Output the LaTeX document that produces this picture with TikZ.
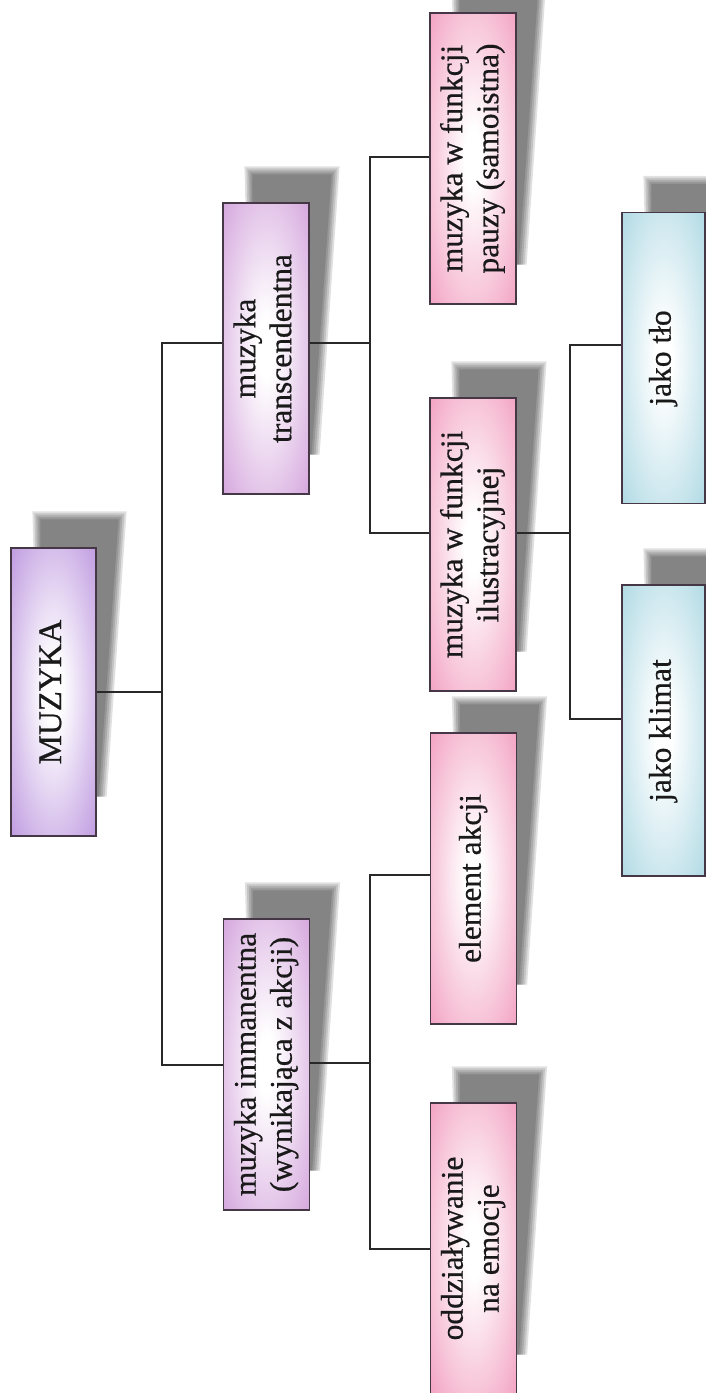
\documentclass[tikz,border=0pt]{standalone}
\usepackage{fontspec}
\setmainfont{Liberation Serif}
\newfontfamily\boxfont{Liberation Serif}[FakeBold=0.5]
\usetikzlibrary{backgrounds,calc}
\definecolor{violetA}{RGB}{178,134,218}
\definecolor{violetB}{RGB}{204,148,214}
\definecolor{pinkC}{RGB}{240,144,182}
\definecolor{blueD}{RGB}{160,210,223}
\definecolor{edgecol}{RGB}{70,55,70}
\definecolor{linecol}{RGB}{40,40,40}
\pgfdeclareradialshading{glowA}{\pgfpoint{0bp}{0bp}}{color(0bp)=(white); color(5bp)=(white); color(42bp)=(violetA); color(100bp)=(violetA)}
\pgfdeclareradialshading{glowB}{\pgfpoint{0bp}{0bp}}{color(0bp)=(white); color(5bp)=(white); color(42bp)=(violetB); color(100bp)=(violetB)}
\pgfdeclareradialshading{glowC}{\pgfpoint{0bp}{0bp}}{color(0bp)=(white); color(5bp)=(white); color(42bp)=(pinkC); color(100bp)=(pinkC)}
\pgfdeclareradialshading{glowD}{\pgfpoint{0bp}{0bp}}{color(0bp)=(white); color(5bp)=(white); color(42bp)=(blueD); color(100bp)=(blueD)}
\tikzset{
  box/.style={draw=edgecol, line width=1.2pt, inner sep=0pt, shade,
    font=\boxfont\fontsize{31.5}{36}\selectfont, text=black!90,
    minimum width=86pt, minimum height=291pt},
  lvlA/.style={box, shading=glowA, minimum width=85pt, minimum height=288pt,
    font=\boxfont\fontsize{33}{38}\selectfont},
  lvlB/.style={box, shading=glowB},
  lvlC/.style={box, shading=glowC},
  lvlD/.style={box, shading=glowD, minimum width=83pt},
  conn/.style={draw=linecol, line width=2pt},
  shadowfill/.style={fill=black, fill opacity=0.12}
}
\newcommand\rtext[1]{\rotatebox{90}{\begin{tabular}{@{}c@{}}#1\end{tabular}}}
\newcommand\boxshadow[1]{%
  \foreach \dd in {0,2,4,6,8}{%
    \fill[shadowfill] ([shift={(30-\dd,-28-\dd)}]#1.north west)
      -- ([shift={(22+\dd,-28-\dd)}]#1.north east)
      -- ([shift={(2+\dd,-40)}]#1.south east)
      -- ([shift={(30,-40)}]#1.south west) -- cycle;}}
\begin{document}
\begin{tikzpicture}[x=1pt,y=-1pt]
\useasboundingbox (0,0) rectangle (706,1393);
% boxes
\node[lvlA] (muzyka)  at (53.5,692)    {\rtext{MUZYKA}};
\node[lvlB] (trans)   at (266,348.5)   {\rtext{muzyka\\transcendentna}};
\node[lvlB] (imman)   at (266.5,1064.5){\rtext{muzyka immanentna\\(wynikająca z akcji)}};
\node[lvlC] (pauzy)   at (473,158.5)   {\rtext{muzyka w funkcji\\pauzy (samoistna)}};
\node[lvlC, minimum height=293pt] (ilustr) at (473,544.5) {\rtext{muzyka w funkcji\\ilustracyjnej}};
\node[lvlC] (element) at (473.5,878.5) {\rtext{element akcji}};
\node[lvlC] (oddz)    at (473.5,1248.5){\rtext{oddziaływanie\\na emocje}};
\node[lvlD] (tlo)     at (663.5,358)   {\rtext{jako tło}};
\node[lvlD] (klimat)  at (663.5,730.5) {\rtext{jako klimat}};
% shadows and background
\begin{scope}[on background layer]
  \fill[white] (0,0) rectangle (706,1393);
  \boxshadow{muzyka}
  \boxshadow{trans}
  \boxshadow{imman}
  \boxshadow{pauzy}
  \boxshadow{ilustr}
  \boxshadow{element}
  \boxshadow{oddz}
  \boxshadow{tlo}
  \boxshadow{klimat}
\end{scope}
% junctions
\coordinate (j1) at (162,692);
\coordinate (j2) at (370,343);
\coordinate (j3) at (570,533);
\coordinate (j4) at (370,1063);
% connectors
\draw[conn] (muzyka.east) -- (j1);
\draw[conn] ([yshift=5.5pt]trans.west) -| (j1) |- (imman.west);
\draw[conn] ([yshift=5.5pt]trans.east) -- (j2);
\draw[conn] ([yshift=1.5pt]pauzy.west) -| (j2) |- ([yshift=11.5pt]ilustr.west);
\draw[conn] ([yshift=11.5pt]ilustr.east) -- (j3);
\draw[conn] ([yshift=13pt]tlo.west) -| (j3) |- ([yshift=11.5pt]klimat.west);
\draw[conn] ([yshift=1.5pt]imman.east) -- (j4);
\draw[conn] ([yshift=3.5pt]element.west) -| (j4) |- (oddz.west);
\end{tikzpicture}
\end{document}
